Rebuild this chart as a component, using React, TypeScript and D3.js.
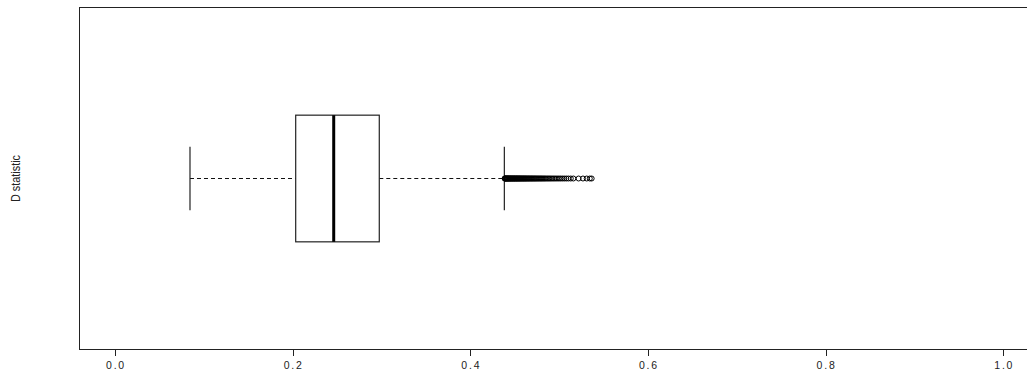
import React from "react";
import * as d3 from "d3";

// five-number summary of the D statistic
const boxStats = { lower: 0.0844, q1: 0.2034, median: 0.2462, q3: 0.2975, upper: 0.4383 };

// points beyond the upper whisker
const outliers = [
  0.4386, 0.4389, 0.4393, 0.4398, 0.4402, 0.4406, 0.4411, 0.4417, 0.4421, 0.4426,
  0.443, 0.4436, 0.4441, 0.4447, 0.4452, 0.4457, 0.4463, 0.4469, 0.4474, 0.448,
  0.4486, 0.4492, 0.4497, 0.4503, 0.4509, 0.4516, 0.4522, 0.4527, 0.4534, 0.4541,
  0.4547, 0.4553, 0.456, 0.4567, 0.4574, 0.4581, 0.4589, 0.4596, 0.4603, 0.4611,
  0.4618, 0.4626, 0.4634, 0.4642, 0.4651, 0.4659, 0.4668, 0.4677, 0.4686, 0.4695,
  0.4704, 0.4714, 0.4723, 0.4733, 0.4743, 0.4754, 0.4765, 0.4776, 0.4788, 0.4799,
  0.4811, 0.4824, 0.4837, 0.485, 0.4864, 0.4878, 0.4893, 0.4908, 0.4924, 0.4941,
  0.4958, 0.4976, 0.4995, 0.5014, 0.5035, 0.5057, 0.508, 0.5104, 0.5131, 0.516,
  0.5219, 0.5268, 0.531, 0.5345, 0.5366,
];

const xTicks = [0, 0.2, 0.4, 0.6, 0.8, 1.0];
const yLabel = "D statistic";

const W = 1027;
const H = 374;

const App: React.FC = () => {
  // R-style 4% padding on both axes
  const x = d3.scaleLinear().domain([-0.04, 1.04]).range([79.5, 1038.8]);
  const y = d3.scaleLinear().domain([0.46, 1.54]).range([349.5, 7.5]);

  const cy = y(1);
  const boxTop = y(1.2);
  const boxBot = y(0.8);
  const capTop = y(1.1);
  const capBot = y(0.9);

  return (
    <svg
      width={W}
      height={H}
      style={{ position: "fixed", left: 0, top: 0, background: "#fff" }}
    >
      {/* plot frame */}
      <rect
        x={x(-0.04)}
        y={y(1.54)}
        width={x(1.04) - x(-0.04)}
        height={y(0.46) - y(1.54)}
        fill="none"
        stroke="#222"
        strokeWidth={1}
      />

      {/* x axis ticks */}
      {xTicks.map((t) => (
        <g key={t}>
          <line
            x1={Math.round(x(t)) + 0.5}
            x2={Math.round(x(t)) + 0.5}
            y1={349.5}
            y2={356}
            stroke="#222"
          />
          <text
            x={x(t) + 1}
            y={369}
            textAnchor="middle"
            fontFamily="'Liberation Sans', Arial, sans-serif"
            fontSize={10.5}
            letterSpacing={1.8}
            fill="#222"
          >
            {t.toFixed(1)}
          </text>
        </g>
      ))}

      {/* y label */}
      <text
        transform={`translate(20,${cy}) rotate(-90)`}
        textAnchor="middle"
        fontFamily="'Liberation Sans Narrow', 'Liberation Sans', sans-serif"
        fontSize={13}
        textLength={47}
        lengthAdjust="spacingAndGlyphs"
        fill="#222"
      >
        {yLabel}
      </text>

      {/* whiskers */}
      <line x1={x(boxStats.lower)} x2={x(boxStats.q1)} y1={cy} y2={cy} stroke="#111" strokeDasharray="4,3" />
      <line x1={x(boxStats.q3)} x2={x(boxStats.upper)} y1={cy} y2={cy} stroke="#111" strokeDasharray="4,3" />
      <line x1={x(boxStats.lower)} x2={x(boxStats.lower)} y1={capTop} y2={capBot} stroke="#222" strokeWidth={1.2} />
      <line x1={x(boxStats.upper)} x2={x(boxStats.upper)} y1={capTop} y2={capBot} stroke="#222" strokeWidth={1.2} />

      {/* box */}
      <rect
        x={x(boxStats.q1)}
        y={boxTop}
        width={x(boxStats.q3) - x(boxStats.q1)}
        height={boxBot - boxTop}
        fill="#fff"
        stroke="#222"
        strokeWidth={1.2}
      />
      <line
        x1={x(boxStats.median)}
        x2={x(boxStats.median)}
        y1={boxTop}
        y2={boxBot}
        stroke="#000"
        strokeWidth={3}
      />

      {/* outliers */}
      {outliers.map((v, i) => (
        <circle key={i} cx={x(v)} cy={cy} r={2.5} fill="none" stroke="#000" strokeWidth={1} />
      ))}
    </svg>
  );
};

export default App;
